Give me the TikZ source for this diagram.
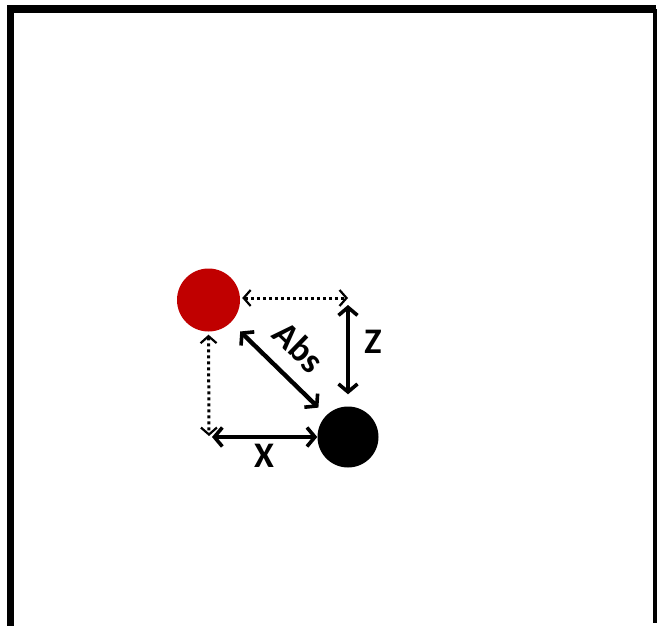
\documentclass[tikz,border=0pt]{standalone}
\usepackage{fontspec}
\setmainfont{Carlito}
\usetikzlibrary{arrows.meta}
\begin{document}
\begin{tikzpicture}[x=1pt,y=-1pt,
  frame/.style={line cap=butt},
  solidarrow/.style={line width=4.4pt,{Straight Barb[length=8pt,width=19pt,line width=3.6pt]}-{Straight Barb[length=8pt,width=19pt,line width=3.6pt]}},
  dotarrow/.style={line width=3pt,dash pattern=on 3pt off 3pt,{Straight Barb[length=7pt,width=16pt,line width=2.2pt]}-{Straight Barb[length=7pt,width=16pt,line width=2.2pt]}},
  lbl/.style={font=\bfseries\fontsize{36}{40}\selectfont,inner sep=0pt},
  ball/.style={circle,inner sep=0pt,minimum size=63pt}]
\useasboundingbox (0,0) rectangle (657,626);
\fill[white] (0,0) rectangle (657,626);
% frame
\draw[frame,line width=7.5pt] (10.5,9) -- (10.5,626);
\draw[frame,line width=8pt] (7,9) -- (656,9);
\draw[frame,line width=4pt] (654.5,9) -- (654.5,623);
% balls
\node[ball,fill={rgb,255:red,192;green,0;blue,0}] (r) at (208.5,300) {};
\node[ball,fill=black,minimum size=61pt] (b) at (348,437) {};
\coordinate (tr) at (348,298);
\coordinate (bl) at (209,437);
% arrows
\draw[dotarrow,shorten <=2pt] (r.east |- tr) -- (tr);
\draw[dotarrow,shorten <=3pt,shorten >=1pt] (r.south) -- (bl);
\draw[solidarrow,shorten <=7pt,shorten >=12pt] (tr) -- (b.north);
\draw[solidarrow,shorten <=3pt] (bl) -- (b.west);
\draw[solidarrow,shorten <=13pt,shorten >=11pt] (r.-45) -- (b.135);
% labels
\node[lbl] (z) at (373,342) {Z};
\node[lbl] (x) at (264,456) {X};
\node[lbl,rotate=-44] (abs) at (299,347) {Abs};
\end{tikzpicture}
\end{document}
